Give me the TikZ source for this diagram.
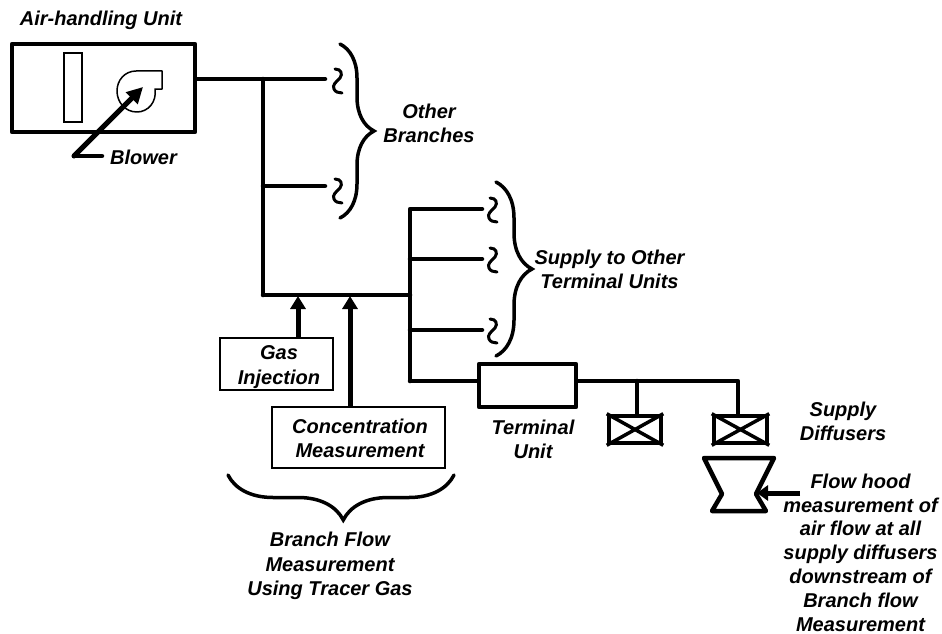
\documentclass[tikz,border=0pt]{standalone}
\usepackage{fontspec}
\setmainfont{Liberation Sans}
\usetikzlibrary{arrows.meta,decorations.pathreplacing}
\tikzset{
  duct/.style={line width=4.5pt,line cap=round,line join=round},
  unitbox/.style={draw,line width=4.5pt,line join=round,minimum width=0pt,inner sep=0pt},
  thinbox/.style={draw,line width=1.8pt,align=center,inner sep=0pt},
  tag/.style={font=\fontsize{20}{24.3}\selectfont\bfseries\itshape,align=center,inner sep=0pt},
  probe/.style={line width=5pt,-{Triangle[length=13pt,width=15pt]}},
  curly/.style={line width=3.5pt,line cap=round,decorate,decoration={brace,amplitude=#1}},
  squiggle/.pic={\draw[line width=3pt,line cap=round] (-3,-12) .. controls (3,-12) and (5,-7) .. (2,-3) .. controls (-2,1) and (-6,4) .. (-4,8) .. controls (-3,11) and (1,12) .. (4,12);}
}
\begin{document}
\begin{tikzpicture}[x=1pt,y=-1pt]
  \useasboundingbox (0,0) rectangle (942,634);
  % air handling unit
  \node[unitbox,minimum width=183pt,minimum height=88pt] (ahu) at (103.5,88) {};
  \node[draw,line width=2.5pt,minimum width=18pt,minimum height=69pt,inner sep=0pt] (filter) at (73,87.5) {};
  \draw[line width=1.5pt,line join=round] (162,71) -- (162,89) -- (155,89) .. controls (157,102) and (148,112) .. (137,112) .. controls (125,112) and (117,102) .. (117,91) .. controls (117,80) and (125,71) .. (136,71) -- cycle;
  \node[tag] (title) at (101,20) {Air-handling Unit};
  \node[tag,anchor=west] (blowertag) at (110,157) {Blower};
  \coordinate (bend) at (74,156);
  \coordinate (bendEnd) at (102,156);
  \coordinate (fan) at (143,87);
  \draw[duct] (bendEnd) -- (bend);
  \draw[line width=5pt,line cap=round,-{Triangle[length=16pt,width=16pt]}] (bend) -- (fan);
  % main duct and first branches
  \coordinate (main) at (263,79);
  \coordinate (elbow) at (263,295);
  \coordinate (branchA) at (325,79);
  \coordinate (branchB) at (325,186);
  \coordinate (tee) at (263,186);
  \draw[duct] (ahu.east |- main) -- (branchA);
  \draw[duct] (main) -- (elbow);
  \draw[duct] (tee) -- (branchB);
  \pic at (338,81) {squiggle};
  \pic at (338,191) {squiggle};
  \draw[curly=34pt] (340,44) -- (340,218);
  \node[tag] (otherbranches) at (429,123.5) {Other\\Branches};
  % supply to terminal units
  \coordinate (riser) at (410,295);
  \coordinate (riserTop) at (410,209);
  \coordinate (riserLow) at (410,381);
  \coordinate (termA) at (482,209);
  \coordinate (termB) at (482,259);
  \coordinate (termC) at (482,330);
  \draw[duct] (elbow) -- (riser);
  \draw[duct] (termA) -- (riserTop) -- (riserLow);
  \draw[duct] (410,259) -- (termB);
  \draw[duct] (410,330) -- (termC);
  \pic at (493,210) {squiggle};
  \pic at (493,260) {squiggle};
  \pic at (493,331) {squiggle};
  \draw[curly=36pt] (496,182) -- (496,356);
  \node[tag] (supplyother) at (609.5,269) {Supply to Other\\Terminal Units};
  % terminal unit and diffusers
  \node[unitbox,minimum width=97pt,minimum height=43pt] (terminal) at (527.5,385.5) {};
  \node[tag] (terminaltag) at (533,439) {Terminal\\Unit};
  \draw[duct] (riserLow) -- (terminal.west |- riserLow);
  \coordinate (trunkEnd) at (738,381);
  \coordinate (stem) at (637,381);
  \node[unitbox,minimum width=52pt,minimum height=27pt] (diffA) at (635,429.5) {};
  \node[unitbox,minimum width=53pt,minimum height=27pt] (diffB) at (740.5,429.5) {};
  \draw[duct] (terminal.east |- trunkEnd) -- (trunkEnd) -- (trunkEnd |- diffB.north);
  \draw[duct] (stem) -- (stem |- diffA.north);
  \draw[line width=3.5pt] (diffA.north west) -- (diffA.south east) (diffA.south west) -- (diffA.north east);
  \draw[line width=3.5pt] (diffB.north west) -- (diffB.south east) (diffB.south west) -- (diffB.north east);
  \node[tag] (diffusertag) at (843,421.5) {Supply\\Diffusers};
  % flow hood
  \draw[duct] (704,458) -- (774,458) -- (756,494) -- (766,511) -- (712,511) -- (722,494) -- cycle;
  \coordinate (hoodport) at (757,493);
  \coordinate (hoodfeed) at (800,493);
  \draw[line width=5pt,-{Triangle[length=11pt,width=15pt]}] (hoodfeed) -- (hoodport);
  \node[tag,font=\fontsize{20}{23.8}\selectfont\bfseries\itshape] (hoodtag) at (860.5,552.5) {Flow hood\\measurement of\\air flow at all\\supply diffusers\\downstream of\\Branch flow\\Measurement};
  % tracer gas boxes
  \node[thinbox,minimum width=113pt,minimum height=52pt] (gas) at (276.5,364) {};
  \node[tag] (gastag) at (279,367) {Gas\\Injection};
  \node[thinbox,minimum width=173pt,minimum height=61pt] (conc) at (358.5,437.5) {};
  \node[tag] (conctag) at (360,438.5) {Concentration\\Measurement};
  \coordinate (gasport) at (298,296);
  \coordinate (concport) at (350,296);
  \draw[probe] (gasport |- gas.north) -- (gasport);
  \draw[probe] (concport |- conc.north) -- (concport);
  \draw[curly=45pt,decoration={aspect=0.49}] (454,475) -- (228,475);
  \node[tag] (tracertag) at (330,566) {Branch Flow\\Measurement\\Using Tracer Gas};
\end{tikzpicture}
\end{document}
